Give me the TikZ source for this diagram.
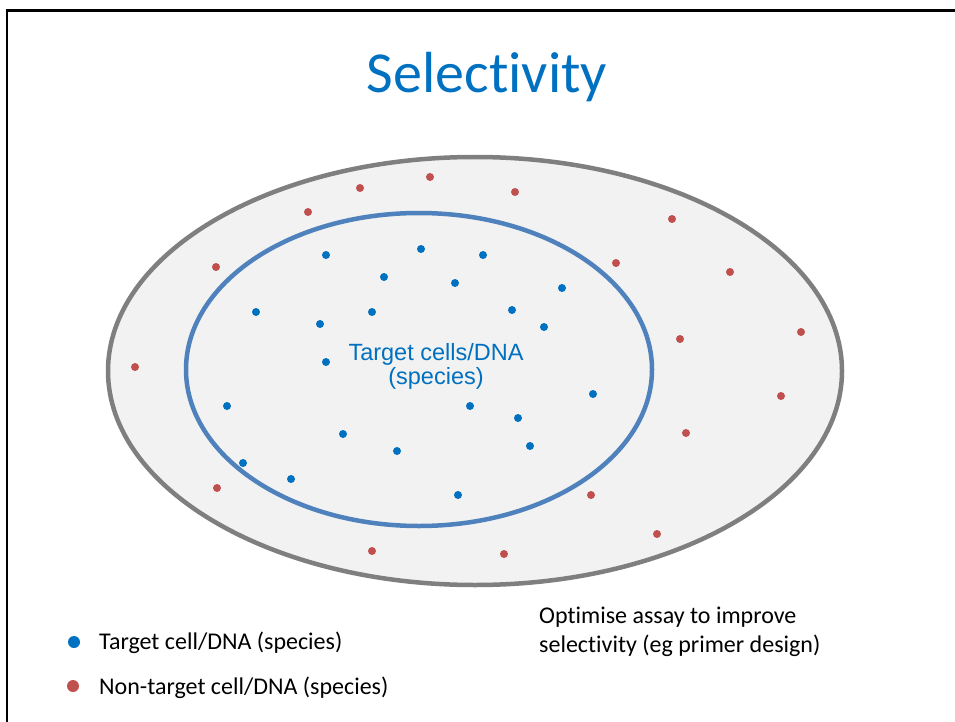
\documentclass[tikz,border=0pt]{standalone}
\usepackage{fontspec}
\setmainfont{Carlito}[RawFeature={-liga;-calt;-dlig;-clig}]
\newfontfamily\arialfont{Liberation Sans}
\definecolor{titleblue}{HTML}{0070C0}
\definecolor{ringblue}{HTML}{4F81BD}
\definecolor{ringgray}{HTML}{7F7F7F}
\definecolor{fillgray}{HTML}{F2F2F2}
\definecolor{dotred}{HTML}{C0504D}
\newcommand{\nolig}{\kern0pt{}}
\begin{document}
\begin{tikzpicture}[x=1pt,y=-1pt]
    \useasboundingbox (0,0) rectangle (955,722);
    % Slide frame
    \draw[line width=2.5pt] (7,722) -- (7,10.5) -- (955,10.5);

    % Title
    \node[anchor=base, text=titleblue, font=\fontsize{58}{70}\selectfont] (title) at (487,93) {Select\nolig ivity};

    % Whole sample and target group
    \draw[ringgray, fill=fillgray, line width=4.5pt] (475,371) ellipse [x radius=367, y radius=214];
    \draw[ringblue, line width=4.5pt] (419,369.5) ellipse [x radius=233, y radius=156.5];

    % Non-target cells
    \foreach \x/\y in {430/177,360/188,308/212,216/267,135/367,515/192,672/219,616/263,730/272,801/332,680/339,
                       781/396,686/433,217/488,591/495,657/534,372/551,504/554}{
        \fill[dotred] (\x,\y) circle [radius=4];
    }
    % Target cells
    \foreach \x/\y in {326/255,421/249,483/255,384/277,455/283,562/288,256/312,372/312,512/310,320/324,544/327,
                       326/362,227/406,470/406,593/394,518/418,343/434,397/451,530/446,243/463,291/479,458/495}{
        \fill[titleblue] (\x,\y) circle [radius=4];
    }
    \node[text=titleblue, align=center, inner sep=0, font=\arialfont\fontsize{23.5}{24}\selectfont] (target) at (436,366) {Target cells/DNA\\(species)};

    % Legend
    \fill[titleblue] (74,642) circle [radius=6];
    \node[anchor=base west, inner sep=0, font=\fontsize{24}{29}\selectfont] (legtarget) at (99,649) {Target cell/DNA (species)};
    \fill[dotred] (73,686) circle [radius=6];
    \node[anchor=base west, inner sep=0, font=\fontsize{24}{29}\selectfont] (legnontarget) at (99,694) {Non-target cell/DNA (species)};

    % Note
    \node[anchor=north west, align=left, inner sep=0, font=\fontsize{24}{29}\selectfont] (note) at (539,607) {Optimise assay to improve\\select\nolig ivity (eg primer design)};
\end{tikzpicture}
\end{document}
